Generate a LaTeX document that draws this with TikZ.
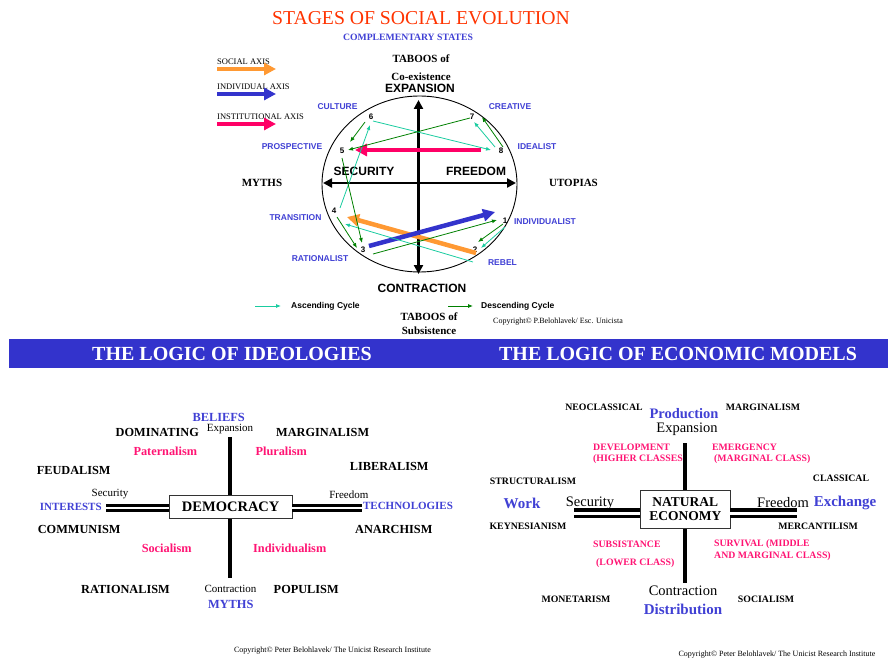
\documentclass[tikz,border=0pt]{standalone}
\usepackage{fontspec}
\setmainfont{Liberation Serif}
\newfontfamily\arialfont{Liberation Sans}
\usepackage{tikz}
\usetikzlibrary{arrows.meta}

\definecolor{titlered}{RGB}{255,51,0}
\definecolor{stateblue}{RGB}{64,64,212}
\definecolor{ideopink}{RGB}{255,20,115}
\definecolor{socorange}{RGB}{255,153,51}
\definecolor{indblue}{RGB}{51,51,204}
\definecolor{instpink}{RGB}{255,0,102}
\definecolor{asccol}{RGB}{26,204,160}
\definecolor{desccol}{RGB}{0,128,0}
\definecolor{bannerblue}{RGB}{51,51,204}

\newcommand{\pts}[1]{\fontsize{#1}{#1}\selectfont}

\tikzset{
  serifr/.style={font=\pts{#1}},
  serifb/.style={font=\bfseries\pts{#1}},
  sansb/.style={font=\arialfont\bfseries\pts{#1}},
  state/.style={sansb=8.5, text=stateblue},
  ism/.style={serifb=12.3},
  econism/.style={serifb=9.8},
  trend/.style={serifb=12.3, text=ideopink},
  econtrend/.style={serifb=9.8, text=ideopink, anchor=west, inner sep=0pt},
  pole/.style={serifb=#1, text=stateblue},
  mainaxis/.style={line width=2.8pt, {Triangle[length=9pt,width=9pt]}-{Triangle[length=9pt,width=9pt]}},
  fatarrow/.style={#1, line width=4.5pt, -{Triangle[length=12pt,width=12pt]}},
  ascline/.style={asccol, line width=0.8pt, -{Latex[length=5pt,width=4pt]}},
  descline/.style={desccol, line width=0.8pt, -{Latex[length=5pt,width=4pt]}},
  bar/.style={line width=4pt},
  dblbar/.style={line width=#1, double=white, double distance=#1},
  modelbox/.style={draw=black!80, line width=0.8pt, fill=white, inner sep=0pt, align=center}
}

\begin{document}
\begin{tikzpicture}[x=1pt, y=-1pt]
        \useasboundingbox (0,0) rectangle (888,660);

        \node[serifr=19.7, text=titlered] (title) at (421,18) {STAGES OF SOCIAL EVOLUTION};
        \node[serifb=9.7, text=stateblue] (compl) at (408,37) {COMPLEMENTARY STATES};

        \node[serifr=8.5, anchor=west, inner sep=0pt] (socax) at (217,62) {SOCIAL AXIS};
        \node[serifr=8.5, anchor=west, inner sep=0pt] (indax) at (217,87) {INDIVIDUAL AXIS};
        \node[serifr=8.5, anchor=west, inner sep=0pt] (instax) at (217,117) {INSTITUTIONAL AXIS};
        \coordinate (socaxS) at (217,69);
        \coordinate (socaxE) at (276,69);
        \coordinate (indaxS) at (217,94);
        \coordinate (indaxE) at (276,94);
        \coordinate (instaxS) at (217,124);
        \coordinate (instaxE) at (276,124);
        \draw[fatarrow=socorange] (socaxS) -- (socaxE);
        \draw[fatarrow=indblue] (indaxS) -- (indaxE);
        \draw[fatarrow=instpink] (instaxS) -- (instaxE);

        \node[serifb=11] (tabooT) at (421,59) {TABOOS of};
        \node[serifb=11] (coex) at (421,77) {Co-existence};
        \node[sansb=12, fill=white, inner sep=1pt] (expansion) at (420,88.5) {EXPANSION};
        \node[sansb=12] (contraction) at (422,288) {CONTRACTION};
        \node[sansb=12] (security) at (364,171.5) {SECURITY};
        \node[sansb=12] (freedom) at (476,171.5) {FREEDOM};
        \node[serifb=11] (myths) at (262,182.5) {MYTHS};
        \node[serifb=11] (utopias) at (573.5,182.5) {UTOPIAS};

        \draw[line width=0.9pt] (419.5,184) ellipse [x radius=97.5pt, y radius=88pt];

        \coordinate (expN) at (418.5,100);
        \coordinate (conS) at (418.5,274);
        \coordinate (secW) at (323,183);
        \coordinate (freE) at (516,183);
        \draw[mainaxis] (expN) -- (conS);
        \draw[mainaxis] (secW) -- (freE);

        \node[state] (culture) at (337.5,106.7) {CULTURE};
        \node[state] (creative) at (510,106.7) {CREATIVE};
        \node[state] (prospective) at (292,146.7) {PROSPECTIVE};
        \node[state] (idealist) at (537,146.7) {IDEALIST};
        \node[state] (transition) at (295.5,217.7) {TRANSITION};
        \node[state] (individualist) at (545,222) {INDIVIDUALIST};
        \node[state] (rationalist) at (320,259) {RATIONALIST};
        \node[state] (rebel) at (502.5,262.7) {REBEL};

        \node[sansb=8] (st1) at (505,221) {1};
        \node[sansb=8] (st2) at (475,250) {2};
        \node[sansb=8] (st3) at (363,250) {3};
        \node[sansb=8] (st4) at (334,211) {4};
        \node[sansb=8] (st5) at (342,151) {5};
        \node[sansb=8] (st6) at (371,117) {6};
        \node[sansb=8] (st7) at (472,117) {7};
        \node[sansb=8] (st8) at (501,151) {8};

        \coordinate (instS) at (481,150);
        \coordinate (instE) at (355,150);
        \coordinate (socS) at (476,253);
        \coordinate (socE) at (347,217);
        \coordinate (indS) at (369,246);
        \coordinate (indE) at (495,212);
        \draw[fatarrow=instpink] (instS) -- (instE);
        \draw[fatarrow=socorange] (socS) -- (socE);
        \draw[fatarrow=indblue] (indS) -- (indE);

        \coordinate (up12from) at (505,227);
        \coordinate (up12to) at (481,248);
        \coordinate (up24from) at (473,262);
        \coordinate (up24to) at (345,224);
        \coordinate (up46from) at (340,208);
        \coordinate (up46to) at (370,125);
        \coordinate (up68from) at (373,121);
        \coordinate (up68to) at (491,150);
        \coordinate (up87from) at (495,147);
        \coordinate (up87to) at (474,122);
        \draw[ascline] (up12from) -- (up12to);
        \draw[ascline] (up24from) -- (up24to);
        \draw[ascline] (up46from) -- (up46to);
        \draw[ascline] (up68from) -- (up68to);
        \draw[ascline] (up87from) -- (up87to);

        \coordinate (dn87from) at (503,147);
        \coordinate (dn87to) at (482,117);
        \coordinate (dn75from) at (470,118);
        \coordinate (dn75to) at (348,150);
        \coordinate (dn65from) at (365,122);
        \coordinate (dn65to) at (350,142);
        \coordinate (dn53from) at (342,158);
        \coordinate (dn53to) at (362,243);
        \coordinate (dn43from) at (337,217);
        \coordinate (dn43to) at (357,248);
        \coordinate (dn31from) at (373,254);
        \coordinate (dn31to) at (497,220);
        \coordinate (dn12from) at (503,224);
        \coordinate (dn12to) at (478,242);
        \draw[descline] (dn87from) -- (dn87to);
        \draw[descline] (dn75from) -- (dn75to);
        \draw[descline] (dn65from) -- (dn65to);
        \draw[descline] (dn53from) -- (dn53to);
        \draw[descline] (dn43from) -- (dn43to);
        \draw[descline] (dn31from) -- (dn31to);
        \draw[descline] (dn12from) -- (dn12to);

        \coordinate (ascKeyS) at (255,306);
        \coordinate (ascKeyE) at (281,306);
        \coordinate (descKeyS) at (448,306);
        \coordinate (descKeyE) at (473,306);
        \draw[ascline] (ascKeyS) -- (ascKeyE);
        \draw[descline] (descKeyS) -- (descKeyE);
        \node[sansb=8.5, anchor=west, inner sep=0pt] (asckey) at (291,306.5) {Ascending Cycle};
        \node[sansb=8.5, anchor=west, inner sep=0pt] (desckey) at (481,306.5) {Descending Cycle};

        \node[serifb=11] (tabooB) at (429,317) {TABOOS of};
        \node[serifb=11] (subs) at (429,331) {Subsistence};
        \node[serifr=8, anchor=west, inner sep=0pt] (copytop) at (493,322) {Copyright© P.Belohlavek/ Esc. Unicista};

        \fill[bannerblue] (9,339) rectangle (888,368);
        \node[serifb=20, text=white] (ideohead) at (232,354) {THE LOGIC OF IDEOLOGIES};
        \node[serifb=20, text=white] (econhead) at (678,354) {THE LOGIC OF ECONOMIC MODELS};

        \coordinate (ideoN) at (230,437);
        \coordinate (ideoS) at (230,578);
        \coordinate (ideoW) at (106,508);
        \coordinate (ideoE) at (362,508);
        \draw[bar] (ideoN) -- (ideoS);
        \node[modelbox, serifb=14.5, minimum width=122.7pt, minimum height=23.3pt] (democracy) at (230.7,506.7) {DEMOCRACY};
        \draw[dblbar=2.7pt] (ideoW) -- (ideoW -| democracy.west);
        \draw[dblbar=2.7pt] (ideoE -| democracy.east) -- (ideoE);

        \node[pole=12.4] (beliefs) at (218.7,417.7) {BELIEFS};
        \node[serifr=11] (ideoexp) at (230,429.3) {Expansion};
        \node[ism] (dominating) at (157.3,432.7) {DOMINATING};
        \node[ism] (marginalism) at (322.7,432.7) {MARGINALISM};
        \node[trend] (paternalism) at (165.3,451.7) {Paternalism};
        \node[trend] (pluralism) at (281.2,451.7) {Pluralism};
        \node[ism] (feudalism) at (73.7,470.7) {FEUDALISM};
        \node[ism] (liberalism) at (389.2,466.7) {LIBERALISM};
        \node[serifr=11] (ideosec) at (110,494.3) {Security};
        \node[serifr=11] (ideofree) at (348.8,494.3) {Freedom};
        \node[pole=11] (interests) at (70.8,507.3) {INTERESTS};
        \node[pole=11] (technologies) at (408,506) {TECHNOLOGIES};
        \node[ism] (communism) at (79.2,529) {COMMUNISM};
        \node[ism] (anarchism) at (393.8,529) {ANARCHISM};
        \node[trend] (socialism) at (166.7,548.3) {Socialism};
        \node[trend] (individualism) at (289.7,548.3) {Individualism};
        \node[ism] (rationalism) at (125.5,589) {RATIONALISM};
        \node[serifr=11] (ideocon) at (230.5,589) {Contraction};
        \node[ism] (populism) at (306.2,589) {POPULISM};
        \node[pole=12.4] (ideomyths) at (230.8,604) {MYTHS};
        \node[serifr=8] (copyleft) at (332.5,650.7) {Copyright© Peter Belohlavek/ The Unicist Research Institute};

        \coordinate (econN) at (685,443);
        \coordinate (econS) at (685,583);
        \coordinate (econW) at (574,513.3);
        \coordinate (econE) at (796.7,513.3);
        \draw[bar] (econN) -- (econS);
        \node[modelbox, serifb=13.5, minimum width=89.3pt, minimum height=38.3pt] (natural) at (685.3,509.2) {NATURAL\\[1pt]ECONOMY};
        \draw[dblbar=3.3pt] (econW) -- (econW -| natural.west);
        \draw[dblbar=3.3pt] (econE -| natural.east) -- (econE);

        \node[econism] (neoclassical) at (604,407) {NEOCLASSICAL};
        \node[pole=14.5] (production) at (684,414) {Production};
        \node[econism] (econmarg) at (763,407) {MARGINALISM};
        \node[serifr=14.5] (econexp) at (687,429) {Expansion};
        \node[econtrend] (development) at (593,447) {DEVELOPMENT};
        \node[econtrend] (higher) at (593,459) {(HIGHER CLASSES};
        \node[econtrend] (emergency) at (712,447) {EMERGENCY};
        \node[econtrend] (marginal) at (714,459) {(MARGINAL CLASS)};
        \node[econism] (classical) at (841,478) {CLASSICAL};
        \node[econism] (structuralism) at (533,481) {STRUCTURALISM};
        \node[pole=15] (work) at (522,503) {Work};
        \node[serifr=14.5] (econsec) at (590,503) {Security};
        \node[serifr=14.5] (econfree) at (783,503) {Freedom};
        \node[pole=15] (exchange) at (845,503) {Exchange};
        \node[econism] (keynesianism) at (528,526) {KEYNESIANISM};
        \node[econism] (mercantilism) at (818,526) {MERCANTILISM};
        \node[econtrend] (subsistance) at (593,544) {SUBSISTANCE};
        \node[econtrend] (lower) at (596,563) {(LOWER CLASS)};
        \node[econtrend] (survival) at (714,544) {SURVIVAL (MIDDLE};
        \node[econtrend] (andmarg) at (714,556) {AND MARGINAL CLASS)};
        \node[serifr=14.5] (econcon) at (683,591) {Contraction};
        \node[pole=15] (distribution) at (683,609) {Distribution};
        \node[econism] (monetarism) at (576,599) {MONETARISM};
        \node[econism] (econsoc) at (766,599) {SOCIALISM};
        \node[serifr=8] (copyright) at (777,655) {Copyright© Peter Belohlavek/ The Unicist Research Institute};

\end{tikzpicture}
\end{document}
